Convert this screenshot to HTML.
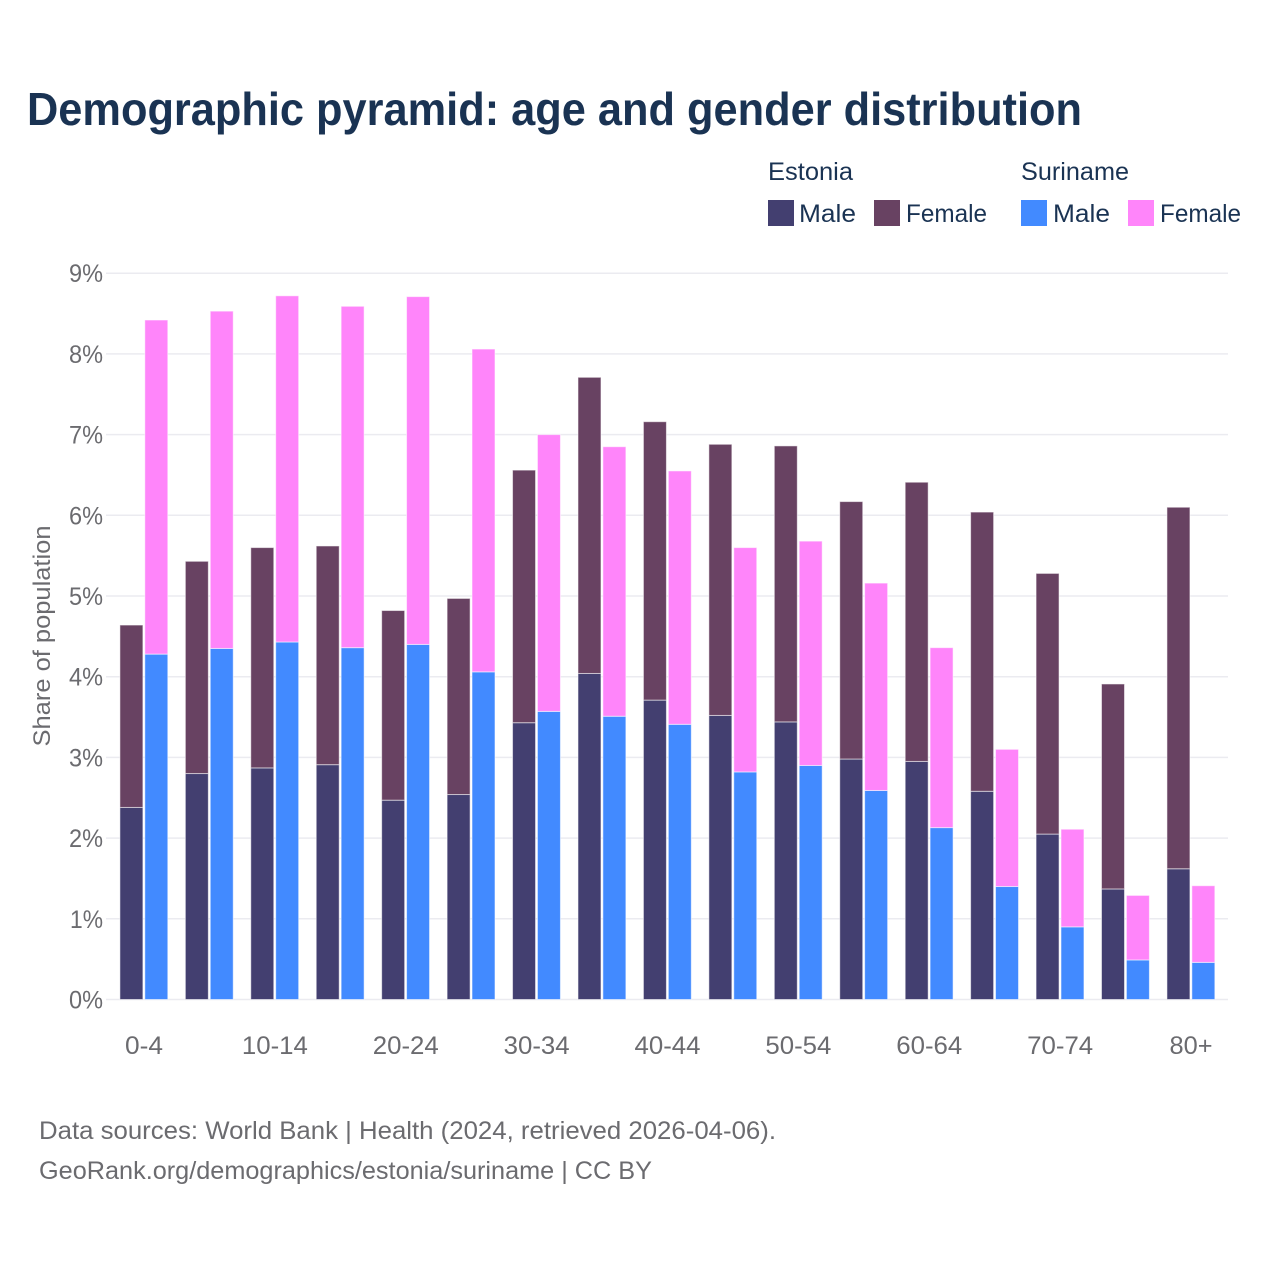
<!DOCTYPE html>
<html lang="en">
<head>
<meta charset="utf-8">
<title>Demographic pyramid</title>
<style>
html,body{margin:0;padding:0;background:#fff;width:1280px;height:1280px;overflow:hidden}
svg{display:block}
text{font-family:"Liberation Sans",sans-serif}
</style>
</head>
<body>
<svg id="chart" width="1280" height="1280" viewBox="0 0 1280 1280" xmlns="http://www.w3.org/2000/svg">
  <rect width="1280" height="1280" fill="#fff"/>
  <text x="27" y="125" font-size="46" font-weight="700" fill="#1a3353" textLength="1055" lengthAdjust="spacingAndGlyphs">Demographic pyramid: age and gender distribution</text>

  <g font-size="25" fill="#1a3353">
    <text x="768" y="180" textLength="85" lengthAdjust="spacingAndGlyphs">Estonia</text>
    <text x="1021" y="180" textLength="108" lengthAdjust="spacingAndGlyphs">Suriname</text>
    <rect x="768" y="200" width="26" height="26" fill="#433f70"/>
    <text x="799" y="222" textLength="57" lengthAdjust="spacingAndGlyphs">Male</text>
    <rect x="874" y="200" width="26" height="26" fill="#684262"/>
    <text x="906" y="222" textLength="81" lengthAdjust="spacingAndGlyphs">Female</text>
    <rect x="1021" y="200" width="26" height="26" fill="#428aff"/>
    <text x="1053" y="222" textLength="57" lengthAdjust="spacingAndGlyphs">Male</text>
    <rect x="1128" y="200" width="26" height="26" fill="#ff85fa"/>
    <text x="1160" y="222" textLength="81" lengthAdjust="spacingAndGlyphs">Female</text>
  </g>

  <text transform="translate(50,636) rotate(-90)" text-anchor="middle" font-size="24" fill="#6b6b6f" textLength="221" lengthAdjust="spacingAndGlyphs">Share of population</text>

  <g id="grid"></g>
  <g id="bars"></g>
  <g id="xlabels"></g>

  <text x="39" y="1139" font-size="25" fill="#6b6b6f" textLength="737" lengthAdjust="spacingAndGlyphs">Data sources: World Bank | Health (2024, retrieved 2026-04-06).</text>
  <text x="39" y="1179" font-size="25" fill="#6b6b6f" textLength="613" lengthAdjust="spacingAndGlyphs">GeoRank.org/demographics/estonia/suriname | CC BY</text>
</svg>
<script>
const categories = ["0-4","5-9","10-14","15-19","20-24","25-29","30-34","35-39","40-44","45-49","50-54","55-59","60-64","65-69","70-74","75-79","80+"];
const tickLabels = ["0-4","10-14","20-24","30-34","40-44","50-54","60-64","70-74","80+"];
const yTicks = [0,1,2,3,4,5,6,7,8,9];
const estoniaMale = [2.38,2.80,2.87,2.91,2.47,2.54,3.43,4.04,3.71,3.52,3.44,2.98,2.95,2.58,2.05,1.37,1.62];
const estoniaFemale = [2.26,2.63,2.73,2.71,2.35,2.43,3.13,3.67,3.45,3.36,3.42,3.19,3.46,3.46,3.23,2.54,4.48];
const surinameMale = [4.28,4.35,4.43,4.36,4.40,4.06,3.57,3.51,3.41,2.82,2.90,2.59,2.13,1.40,0.90,0.49,0.46];
const surinameFemale = [4.14,4.18,4.29,4.23,4.31,4.00,3.43,3.34,3.14,2.78,2.78,2.57,2.23,1.70,1.21,0.80,0.95];

const NS = "http://www.w3.org/2000/svg";
const plot = {left:111.3, step:65.44, y0:999.5, unit:80.7};
const x = i => plot.left + plot.step * i;
const y = v => plot.y0 - plot.unit * v;

function make(tag, parent, attrs){
  const el = document.createElementNS(NS, tag);
  for (const k in attrs) el.setAttribute(k, attrs[k]);
  parent.appendChild(el);
  return el;
}

const grid = document.getElementById("grid");
yTicks.forEach(t => {
  const line = make("line", grid, {x1:106, x2:1228, y1:y(t), y2:y(t), stroke:"#ebebf0", "stroke-width":1.5});
  
  
  const lab = make("text", grid, {x:103, y:y(t)+9, "text-anchor":"end", "font-size":25, fill:"#6b6b6f", textLength:t===1?33:34, lengthAdjust:"spacingAndGlyphs"});
  
  
  lab.textContent = t + "%";
});

const bars = document.getElementById("bars");
function segment(cx, base, val, fill, name){
  const r = make("rect", bars, {x:cx, y:y(base+val), width:23, height:plot.unit*val, fill:fill, stroke:"#fff", "stroke-opacity":0.55, "stroke-width":1});
  
  
}
categories.forEach((c,i) => {
  const xe = x(i) + 8.6;
  const xs = x(i) + 33.5;
  segment(xe, 0, estoniaMale[i], "#433f70", "bar-estonia-male");
  segment(xe, estoniaMale[i], estoniaFemale[i], "#684262", "bar-estonia-female");
  segment(xs, 0, surinameMale[i], "#428aff", "bar-suriname-male");
  segment(xs, surinameMale[i], surinameFemale[i], "#ff85fa", "bar-suriname-female");
});

const xl = document.getElementById("xlabels");
categories.forEach((c,i) => {
  if (tickLabels.indexOf(c) < 0) return;
  const t = make("text", xl, {x:x(i)+32.7, y:1054, "text-anchor":"middle", "font-size":25, fill:"#6b6b6f", textLength:c.length===3?(c==="0-4"?38:43):66, lengthAdjust:"spacingAndGlyphs"});
  
  
  t.textContent = c;
});
</script>
</body>
</html>
